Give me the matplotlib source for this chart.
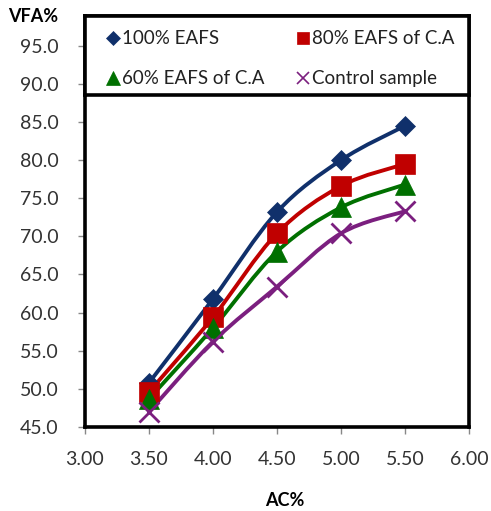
import matplotlib
matplotlib.use("Agg")
import matplotlib.pyplot as plt
import numpy as np
from matplotlib.path import Path
from matplotlib.patches import PathPatch

plt.rcParams['font.family'] = ['Lato', 'DejaVu Sans']

ac = [3.5, 4.0, 4.5, 5.0, 5.5]
eafs100 = [50.8, 61.8, 73.2, 80.0, 84.5]
eafs80 = [49.6, 59.4, 70.4, 76.6, 79.5]
eafs60 = [48.7, 58.0, 68.0, 73.8, 76.8]
control = [47.0, 56.2, 63.4, 70.4, 73.3]

labels = ['100% EAFS', '80% EAFS of C.A', '60% EAFS of C.A', 'Control sample']
colors = ['#10306B', '#C00000', '#007000', '#7B1F7F']
markers = ['D', 's', '^', 'x']
msizes = [10, 14.5, 14, 15]
xticks = [3.0, 3.5, 4.0, 4.5, 5.0, 5.5, 6.0]
yticks = [45, 50, 55, 60, 65, 70, 75, 80, 85, 90, 95]

fig = plt.figure(figsize=(4.91, 5.11), dpi=100)
W, H = 491, 511
ax = fig.add_axes([85 / W, 1 - 427 / H, (469 - 85) / W, (427 - 16) / H])
ax.set_xlim(3.0, 6.0)
ax.set_ylim(45, 98.9)


def smooth_path(x, y, t=1 / 6):
    x = np.asarray(x, float)
    y = np.asarray(y, float)
    n = len(x)
    verts = [(x[0], y[0])]
    codes = [Path.MOVETO]
    for i in range(n - 1):
        x0, y0 = (x[i - 1], y[i - 1]) if i > 0 else (x[i], y[i])
        x3, y3 = (x[i + 2], y[i + 2]) if i + 2 < n else (x[i + 1], y[i + 1])
        c1 = (x[i] + (x[i + 1] - x0) * t, y[i] + (y[i + 1] - y0) * t)
        c2 = (x[i + 1] - (x3 - x[i]) * t, y[i + 1] - (y3 - y[i]) * t)
        verts += [c1, c2, (x[i + 1], y[i + 1])]
        codes += [Path.CURVE4] * 3
    return Path(verts, codes)


series = [eafs100, eafs80, eafs60, control]
for s, c, m, ms in zip(series, colors, markers, msizes):
    ax.add_patch(PathPatch(smooth_path(ac, s), fill=False, edgecolor=c, lw=2.8,
                           capstyle='round', joinstyle='round', zorder=3))
    if m == 'x':
        ax.plot(ac, s, ls='none', marker=m, ms=ms, mew=2.0, color=c, zorder=4)
    else:
        ax.plot(ac, s, ls='none', marker=m, ms=ms, color=c, mec=c, mew=0.5, zorder=4)

ax.set_xticks(xticks)
ax.set_xticklabels([f'{v:.2f}' for v in xticks], fontsize=14, color='#333333')
ax.set_yticks(yticks)
ax.set_yticklabels([f'{v:.1f}' for v in yticks], fontsize=14, color='#333333')
ax.tick_params(direction='out', length=5, width=1, color='#888888')
ax.tick_params(axis='y', pad=14)
ax.tick_params(axis='x', pad=12)
for sp in ax.spines.values():
    sp.set_linewidth(2.6)
    sp.set_color('black')

# legend box overlay at top of plot area
leg_ax = fig.add_axes([85 / W, 1 - 95 / H, (469 - 85) / W, (95 - 16) / H])
leg_ax.set_xlim(0, 1)
leg_ax.set_ylim(0, 1)
leg_ax.set_xticks([])
leg_ax.set_yticks([])
leg_ax.set_facecolor('white')
for sp in leg_ax.spines.values():
    sp.set_linewidth(2.6)
    sp.set_color('black')
leg_pos = [(0.073, 0.72), (0.568, 0.72), (0.073, 0.21), (0.568, 0.21)]
leg_ms = [7.5, 9, 10, 9]
for (lx, ly), lab, c, m, lms in zip(leg_pos, labels, colors, markers, leg_ms):
    leg_ax.plot([lx], [ly], ls='none', marker=m, ms=lms, color=c, mec=c,
                mew=1.2 if m == 'x' else 0.5)
    leg_ax.text(lx + 0.024, ly, lab, fontsize=13.5, color='#222222', va='center', ha='left')

fig.text(8 / W, 1 - 16 / H, 'VFA%', fontsize=13, fontweight='bold', va='center', ha='left')
fig.text(285 / W, 1 - 500 / H, 'AC%', fontsize=13, fontweight='bold', va='center', ha='center')

fig.savefig('out.png', dpi=100)
